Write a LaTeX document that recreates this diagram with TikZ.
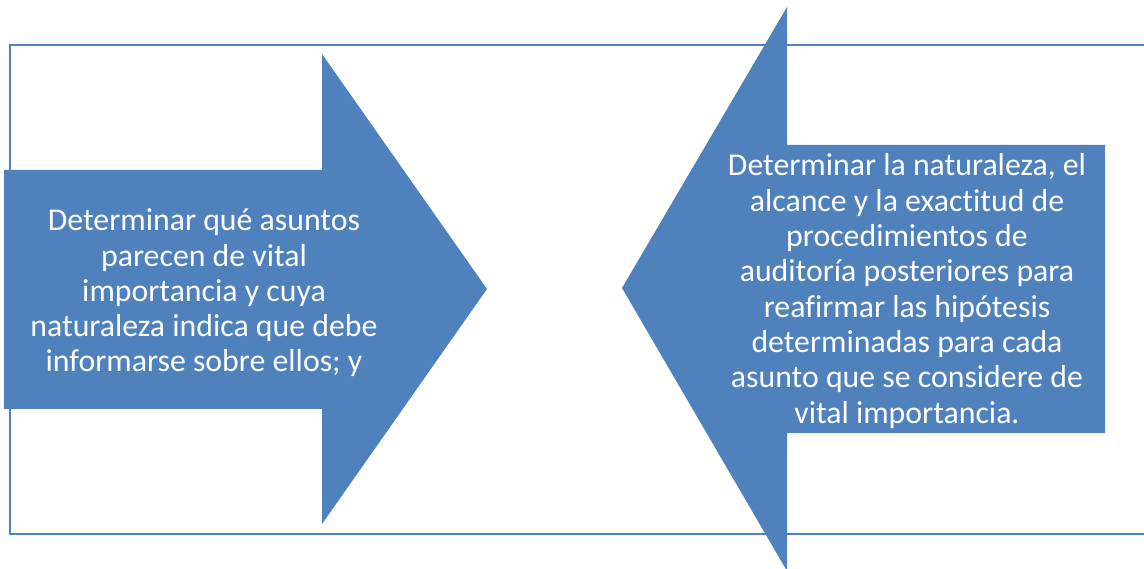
\documentclass[tikz,border=0pt]{standalone}
\usepackage{fontspec}
\setmainfont{Carlito}[Ligatures=NoCommon]
\usepackage{xcolor}
\usetikzlibrary{calc}
\definecolor{officeblue}{HTML}{4F81BD}

\begin{document}
\begin{tikzpicture}[x=1pt,y=-1pt,
  bigarrow/.style={fill=officeblue},
  arrowtext/.style={text=white,align=center,font=\fontsize{31.8}{35.3}\selectfont}]
\useasboundingbox (0,0) rectangle (1144,569);

% Frame
\draw[officeblue,line width=2pt] (1150,45) -- (10,45) -- (10,534) -- (1150,534);

% Arrow to the right
\fill[bigarrow] (4,170) -- (322,170) -- (322,54) -- (487,289) -- (322,524) -- (322,409) -- (4,409) -- cycle;
\node[arrowtext] (left) at (204,293) {Determinar qué asuntos\\parecen de vital\\importancia y cuya\\naturaleza indica que debe\\informarse sobre ellos; y};

% Arrow to the left
\fill[bigarrow] (1105,145) -- (787,145) -- (787,7) -- (622,288) -- (787,571) -- (787,433) -- (1105,433) -- cycle;
\node[arrowtext] (right) at (907,291) {Determinar la naturaleza, el\\alcance y la exactitud de\\procedimientos de\\auditoría posteriores para\\reafirmar las hipótesis\\determinadas para cada\\asunto que se considere de\\vital importancia.};
\end{tikzpicture}
\end{document}
